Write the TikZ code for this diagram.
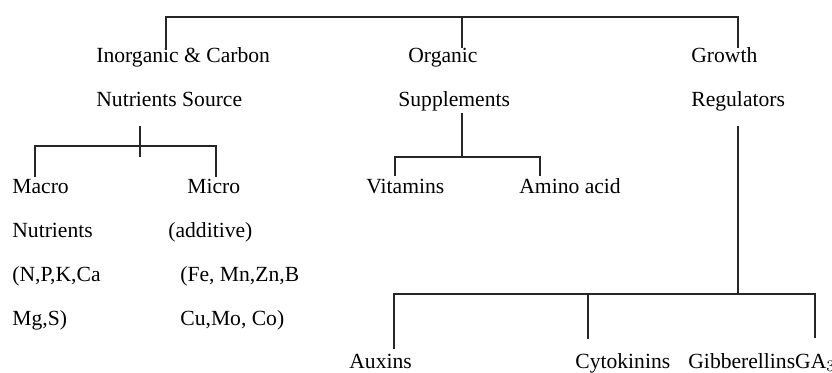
\documentclass[tikz,border=0pt]{standalone}
\usepackage{fontspec}
\setmainfont{Liberation Serif}
\tikzset{
  txt/.style={anchor=base west,inner sep=0pt,font=\fontsize{10.8}{13}\selectfont},
  rama/.style={line width=0.65pt,black!85}
}
\begin{document}
\begin{tikzpicture}[x=0.5pt,y=-0.5pt]
    \useasboundingbox (0,0) rectangle (832,372);
    % textos
    \node[txt] (inorgA) at (96,62) {Inorganic \& Carbon};
    \node[txt] (inorgB) at (96,106) {Nutrients Source};
    \node[txt] (orgA) at (408,62) {Organic};
    \node[txt] (orgB) at (398,106) {Supplements};
    \node[txt] (growA) at (691,62) {Growth};
    \node[txt] (growB) at (691,106) {Regulators};
    \node[txt] (macA) at (12,193) {Macro};
    \node[txt] (macB) at (12,237) {Nutrients};
    \node[txt] (macC) at (12,281) {(N,P,K,Ca};
    \node[txt] (macD) at (12,325) {Mg,S)};
    \node[txt] (micA) at (187,193) {Micro};
    \node[txt] (micB) at (168,237) {(additive)};
    \node[txt] (micC) at (180,281) {(Fe, Mn,Zn,B};
    \node[txt] (micD) at (180,325) {Cu,Mo, Co)};
    \node[txt] (vit) at (366,193) {Vitamins};
    \node[txt] (amino) at (519,193) {Amino acid};
    \node[txt] (aux) at (349,368) {Auxins};
    \node[txt] (cyto) at (575,368) {Cytokinins};
    \node[txt] (gib) at (688,368) {GibberellinsGA$_3$};
    % puntos de union
    \coordinate (tIn) at (166,50);
    \coordinate (tOrg) at (462,48);
    \coordinate (tGr) at (738,48);
    \coordinate (top) at (462,17);
    \coordinate (sIn) at (140,126);
    \coordinate (jIn) at (140,146);
    \coordinate (bIn) at (140,157);
    \coordinate (eMac) at (35,177);
    \coordinate (eMic) at (216,177);
    \coordinate (sOrg) at (462,113);
    \coordinate (jOrg) at (462,157);
    \coordinate (eVit) at (395,176);
    \coordinate (eAm) at (540,176);
    \coordinate (sGr) at (738,126);
    \coordinate (jGr) at (738,294);
    \coordinate (eAux) at (394,349);
    \coordinate (eCyt) at (588,339);
    \coordinate (eGib) at (815,338);
    % ramas
    \draw[rama] (tIn) |- (top) -| (tGr);
    \draw[rama] (top) -- (tOrg);
    \draw[rama] (sIn) -- (bIn);
    \draw[rama] (eMac) |- (jIn) -| (eMic);
    \draw[rama] (sOrg) -- (jOrg);
    \draw[rama] (eVit) |- (jOrg) -| (eAm);
    \draw[rama] (sGr) -- (jGr);
    \draw[rama] (eAux) |- (jGr) -| (eGib);
    \draw[rama] (eCyt) -- (eCyt |- jGr);
\end{tikzpicture}
\end{document}
